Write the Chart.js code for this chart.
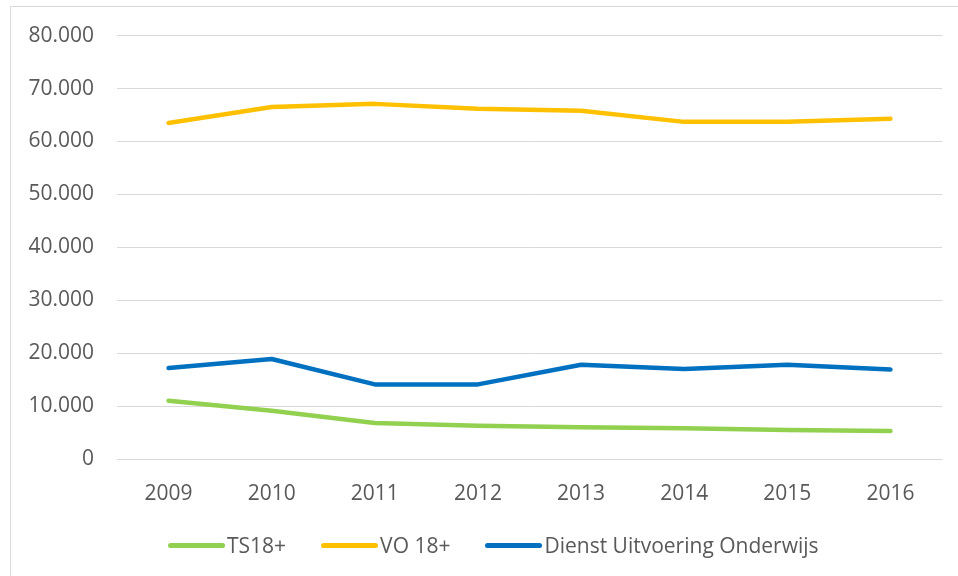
<!DOCTYPE html>
<html>
<head>
<meta charset="utf-8">
<script src="https://cdn.jsdelivr.net/npm/chart.js@4/dist/chart.umd.min.js"></script>
<style>
  html, body { margin: 0; padding: 0; background: #fff; overflow: hidden; }
  #wrap { position: relative; width: 958px; height: 576px; }
  #frame { position: absolute; left: 10px; top: 6px; width: 980px; height: 600px; border: 1px solid #d9d9d9; }
  #box { position: absolute; left: 0; top: 0; width: 958px; height: 576px; }
  #legend { position: absolute; left: 168px; top: 530px; display: flex; align-items: center;
            font-family: "Open Sans", sans-serif; font-size: 21px; color: #595959; line-height: 30px; }
  .legend-item { display: flex; align-items: center; margin-right: 35px; }
  .legend-swatch { width: 57px; height: 5px; border-radius: 3px; margin-right: 2px; }
</style>
</head>
<body>
<div id="wrap">
  <div id="frame"></div>
  <div id="box"><canvas id="chart"></canvas></div>
  <div id="legend"></div>
</div>
<script>
const years = ['2009', '2010', '2011', '2012', '2013', '2014', '2015', '2016'];
const ts18 = [11000, 9100, 6800, 6300, 6000, 5800, 5500, 5300];
const vo18 = [63500, 66500, 67100, 66200, 65800, 63700, 63700, 64300];
const duo = [17200, 18900, 14100, 14100, 17800, 17000, 17800, 16900];
const yMax = 80000;
const yStep = 10000;

const ink = '#595959';
const grid = '#d9d9d9';
const font = { family: '"Open Sans", sans-serif', size: 21 };

// dutch thousands separator: 80000 -> 80.000
const fmt = v => String(v).replace(/\B(?=(\d{3})+(?!\d))/g, '.');

const series = [
  { label: 'TS18+', data: ts18, color: '#92d050' },
  { label: 'VO 18+', data: vo18, color: '#ffc000' },
  { label: 'Dienst Uitvoering Onderwijs', data: duo, color: '#0070c0' }
];

new Chart(document.getElementById('chart'), {
  type: 'line',
  data: {
    labels: years,
    datasets: series.map(s => ({
      label: s.label,
      data: s.data,
      borderColor: s.color,
      backgroundColor: s.color,
      borderWidth: 4.5,
      borderCapStyle: 'round',
      borderJoinStyle: 'round',
      pointRadius: 0,
      tension: 0,
      fill: false
    }))
  },
  options: {
    responsive: true,
    maintainAspectRatio: false,
    animation: false,
    layout: { padding: { top: 35, right: 16, bottom: 57, left: 0 } },
    plugins: { legend: { display: false }, tooltip: { enabled: false } },
    scales: {
      x: {
        offset: true,
        grid: { display: false },
        border: { display: false },
        ticks: { color: ink, font, padding: 14, maxRotation: 0 },
        afterFit: s => { s.height = 60; }
      },
      y: {
        min: 0,
        max: yMax,
        grid: { color: grid, lineWidth: 1, drawTicks: false },
        border: { display: false },
        ticks: { stepSize: yStep, color: ink, font, padding: 23, callback: v => fmt(v) },
        afterFit: s => { s.width = 117; }
      }
    }
  }
});

document.getElementById('legend').innerHTML = series.map(s =>
  `<span class="legend-item"><span class="legend-swatch" style="background:${s.color}"></span>${s.label}</span>`
).join('');
</script>
</body>
</html>
